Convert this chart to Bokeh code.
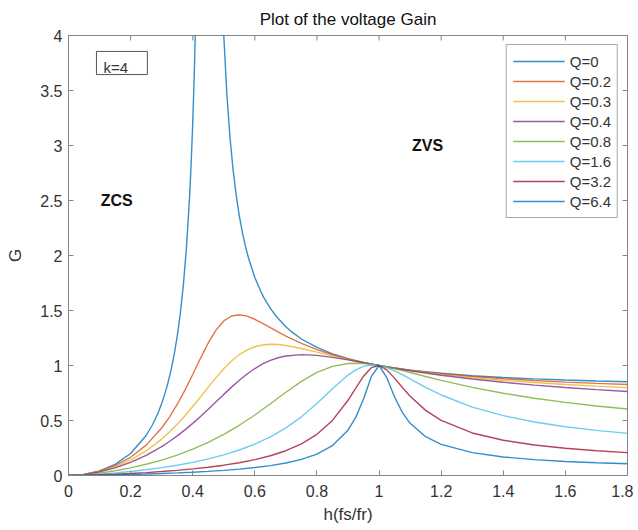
import math
from bokeh.plotting import figure
from bokeh.models import Range1d, FixedTicker, Label, BoxAnnotation
from bokeh.embed import file_html
from bokeh.resources import INLINE

# ---------------- data ----------------
x_ticks = [0, 0.2, 0.4, 0.6, 0.8, 1.0, 1.2, 1.4, 1.6, 1.8]
x_tick_labels = ["0", "0.2", "0.4", "0.6", "0.8", "1", "1.2", "1.4", "1.6", "1.8"]
y_ticks = [0, 0.5, 1.0, 1.5, 2.0, 2.5, 3.0, 3.5, 4.0]
y_tick_labels = ["0", "0.5", "1", "1.5", "2", "2.5", "3", "3.5", "4"]

series_labels = ["Q=0", "Q=0.2", "Q=0.3", "Q=0.4", "Q=0.8", "Q=1.6", "Q=3.2", "Q=6.4"]

h_q0 = [0, 0.05, 0.1, 0.15, 0.2, 0.25, 0.27, 0.28, 0.29, 0.3, 0.31, 0.32, 0.33, 0.34, 0.35,
        0.36, 0.37, 0.38, 0.39, 0.395, 0.4, 0.405, 0.41, 0.42, 0.49, 0.5, 0.51, 0.52, 0.53,
        0.54, 0.55, 0.56, 0.57, 0.58, 0.6, 0.62, 0.63, 0.65, 0.67, 0.7, 0.72, 0.75, 0.8,
        0.85, 0.9, 0.95, 1.0, 1.05, 1.1, 1.2, 1.3, 1.4, 1.5, 1.6, 1.7, 1.8]
g_q0 = [0, 0.0101, 0.0421, 0.1014, 0.2, 0.3636, 0.459, 0.516, 0.58, 0.6545, 0.74, 0.839,
        0.956, 1.096, 1.264, 1.473, 1.736, 2.079, 2.54, 2.838, 3.2, 3.647, 4.22, 5.98, 4.78,
        4.0, 3.463, 3.073, 2.778, 2.546, 2.361, 2.208, 2.081, 1.973, 1.8, 1.668, 1.613,
        1.519, 1.443, 1.352, 1.303, 1.241, 1.164, 1.106, 1.062, 1.0277, 1.0, 0.9773,
        0.9584, 0.929, 0.9074, 0.8909, 0.878, 0.8678, 0.8595, 0.8526]

h_low = [0, 0.05, 0.1, 0.15, 0.2, 0.25, 0.3, 0.325, 0.35, 0.375, 0.4, 0.425, 0.45, 0.475,
         0.5, 0.525, 0.55, 0.575, 0.6, 0.625, 0.65, 0.675, 0.7, 0.75, 0.8, 0.85, 0.9,
         0.925, 0.95, 0.975, 1.0, 1.025, 1.05, 1.075, 1.1, 1.15, 1.2, 1.3, 1.4, 1.5, 1.6,
         1.7, 1.8]
g_q02 = [0, 0.0097, 0.0389, 0.0894, 0.1658, 0.2761, 0.432, 0.5309, 0.6458, 0.776, 0.9183,
         1.0653, 1.2047, 1.3217, 1.4049, 1.4501, 1.4618, 1.4486, 1.4203, 1.3838, 1.3444,
         1.3053, 1.2678, 1.2006, 1.1444, 1.0979, 1.0593, 1.0426, 1.0271, 1.013, 1.0, 0.988,
         0.9769, 0.9666, 0.957, 0.9397, 0.9246, 0.8995, 0.8794, 0.863, 0.8493, 0.8376, 0.8275]
g_q03 = [0, 0.0093, 0.0358, 0.079, 0.1406, 0.2233, 0.331, 0.3946, 0.4655, 0.5432, 0.6267,
         0.7142, 0.8032, 0.8899, 0.9704, 1.0409, 1.0984, 1.1416, 1.1706, 1.1868, 1.1926,
         1.1903, 1.182, 1.1549, 1.1217, 1.0878, 1.0557, 1.0407, 1.0264, 1.0129, 1.0, 0.9878,
         0.9763, 0.9655, 0.9552, 0.9362, 0.9192, 0.8899, 0.8657, 0.8452, 0.8276, 0.8124, 0.7989]
g_q04 = [0, 0.0088, 0.0324, 0.0692, 0.1191, 0.1833, 0.263, 0.3094, 0.36, 0.415, 0.474,
         0.5368, 0.6024, 0.6698, 0.7374, 0.8034, 0.8659, 0.9228, 0.9725, 1.014, 1.0467,
         1.0707, 1.0868, 1.0989, 1.0921, 1.0741, 1.0507, 1.0382, 1.0254, 1.0126, 1.0, 0.9876,
         0.9756, 0.964, 0.9527, 0.9314, 0.9118, 0.877, 0.8474, 0.822, 0.8, 0.7807, 0.7636]

h_main = [0, 0.05, 0.1, 0.15, 0.2, 0.25, 0.3, 0.35, 0.4, 0.45, 0.5, 0.55, 0.6, 0.65, 0.7,
          0.75, 0.8, 0.85, 0.9, 0.925, 0.95, 0.975, 1.0, 1.025, 1.05, 1.075, 1.1, 1.15, 1.2,
          1.3, 1.4, 1.5, 1.6, 1.7, 1.8]
g_q08 = [0, 0.0067, 0.0218, 0.0429, 0.0695, 0.1019, 0.1404, 0.1857, 0.239, 0.3012, 0.3735,
         0.4566, 0.5502, 0.6522, 0.7571, 0.8558, 0.9374, 0.9925, 1.0183, 1.0211, 1.0184,
         1.011, 1.0, 0.9863, 0.9707, 0.9538, 0.9362, 0.9003, 0.8653, 0.8015, 0.7474, 0.7022,
         0.6643, 0.6322, 0.6048]
g_q16 = [0, 0.0041, 0.0122, 0.023, 0.0364, 0.0525, 0.0714, 0.0936, 0.1197, 0.1506, 0.1874,
         0.2316, 0.2853, 0.3513, 0.4328, 0.5334, 0.6541, 0.7883, 0.9132, 0.9605, 0.9917,
         1.0046, 1.0, 0.9809, 0.9516, 0.9161, 0.8777, 0.8012, 0.732, 0.6221, 0.5438, 0.4867,
         0.4436, 0.4101, 0.3832]
g_q32 = [0, 0.0022, 0.0063, 0.0117, 0.0185, 0.0265, 0.0359, 0.0469, 0.0599, 0.0753, 0.0938,
         0.1162, 0.144, 0.1793, 0.2253, 0.2873, 0.3744, 0.5009, 0.684, 0.7948, 0.9028, 0.9803,
         1.0, 0.9603, 0.8851, 0.8003, 0.7206, 0.592, 0.5006, 0.3866, 0.3203, 0.2774, 0.2474,
         0.2251, 0.208]
g_q64 = [0, 0.0011, 0.0032, 0.0059, 0.0093, 0.0133, 0.018, 0.0235, 0.03, 0.0377, 0.0469,
         0.0582, 0.0722, 0.0901, 0.1138, 0.1466, 0.1949, 0.2723, 0.412, 0.5286, 0.6955, 0.898,
         1.0, 0.8892, 0.7135, 0.5737, 0.4747, 0.3527, 0.2831, 0.208, 0.1685, 0.1442, 0.1277,
         0.1156, 0.1064]

colors = ["#0072BD", "#D95319", "#EDB120", "#7E2F8E", "#77AC30", "#4DBEEE", "#A2142F", "#0072BD"]

# ---------------- figure ----------------
FONT = "Liberation Sans"
AX = "#858585"
TXT = "#333333"

p = figure(width=633, height=527, output_backend="svg", toolbar_location=None,
           x_range=Range1d(0, 1.8), y_range=Range1d(0, 4),
           min_border_left=68, min_border_right=6, min_border_top=35, min_border_bottom=52,
           background_fill_color="white", border_fill_color="white")

p.title.text = "Plot of the voltage Gain"
p.title.align = "center"
p.title.text_font = FONT
p.title.text_font_size = "17px"
p.title.text_font_style = "normal"
p.title.text_color = "#111111"
p.title.standoff = 14

p.xgrid.visible = False
p.ygrid.visible = False
p.outline_line_color = AX
p.outline_line_width = 1

for ax, ticks, labels in ((p.xaxis[0], x_ticks, x_tick_labels), (p.yaxis[0], y_ticks, y_tick_labels)):
    ax.ticker = FixedTicker(ticks=ticks)
    ax.major_label_overrides = {t: l for t, l in zip(ticks, labels)}
    ax.major_tick_in = 5
    ax.major_tick_out = 0
    ax.minor_tick_line_color = None
    ax.axis_line_color = AX
    ax.major_tick_line_color = AX
    ax.major_label_text_font = FONT
    ax.major_label_text_font_size = "16px"
    ax.major_label_text_color = TXT
    ax.axis_label_text_font = FONT
    ax.axis_label_text_font_size = "17px"
    ax.axis_label_text_font_style = "normal"
    ax.axis_label_text_color = TXT

p.xaxis.axis_label = "h(fs/fr)"
p.yaxis.axis_label = "G"
p.xaxis.major_label_standoff = 9
p.xaxis.axis_label_standoff = 5
p.yaxis.major_label_standoff = 6
p.yaxis.axis_label_standoff = 12

# inward tick marks on the top and right edges of the box (half of each dash is clipped)
p.scatter(x=x_ticks, y=[y_ticks[-1]] * len(x_ticks), marker="dash", size=10,
          angle=math.pi / 2, line_color=AX, line_width=1)
p.scatter(x=[x_ticks[-1]] * len(y_ticks), y=y_ticks, marker="dash", size=10,
          angle=0, line_color=AX, line_width=1)

xs = [h_q0, h_low, h_low, h_low, h_main, h_main, h_main, h_main]
ys = [g_q0, g_q02, g_q03, g_q04, g_q08, g_q16, g_q32, g_q64]
for x, y, c, lab in zip(xs, ys, colors, series_labels):
    p.line(x, y, line_color=c, line_width=1.4, line_alpha=0.8, legend_label=lab)

lg = p.legend[0]
lg.location = "top_right"
lg.margin = 9
lg.padding = 6
lg.spacing = 0
lg.label_height = 20
lg.glyph_height = 20
lg.glyph_width = 52
lg.label_standoff = 5
lg.label_text_font = FONT
lg.label_text_font_size = "15px"
lg.label_text_color = TXT
lg.border_line_color = "#555555"
lg.border_line_width = 1
lg.background_fill_color = "white"
lg.background_fill_alpha = 1.0

p.add_layout(BoxAnnotation(left=0.09, right=0.254, bottom=3.645, top=3.855,
                           fill_alpha=0, line_color="#555555", line_width=1, line_alpha=1))
p.add_layout(Label(x=0.113, y=3.71, text="k=4", text_font=FONT, text_font_size="15px",
                   text_color=TXT, text_baseline="middle", text_align="left"))
p.add_layout(Label(x=0.155, y=2.5, text="ZCS", text_font=FONT, text_font_size="16px",
                   text_font_style="bold", text_color="#111111", text_align="center",
                   text_baseline="middle"))
p.add_layout(Label(x=1.156, y=3.0, text="ZVS", text_font=FONT, text_font_size="16px",
                   text_font_style="bold", text_color="#111111", text_align="center",
                   text_baseline="middle"))

open("out.html", "w").write(file_html(p, INLINE))
